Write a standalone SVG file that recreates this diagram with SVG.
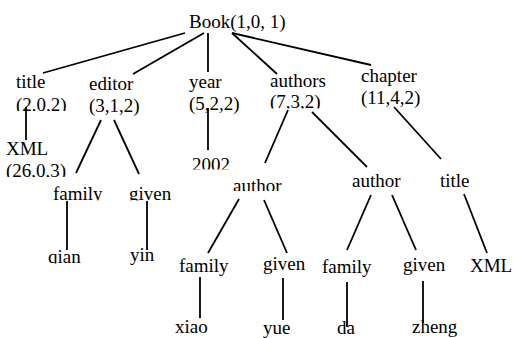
<svg xmlns="http://www.w3.org/2000/svg" width="513" height="338" viewBox="0 0 513 338" font-family="'Liberation Serif', 'DejaVu Serif', serif">
<style>
text{font-family:'Liberation Serif','DejaVu Serif',serif;font-size:19px;fill:#000}
.e{stroke:#000;stroke-width:1.8;fill:none;stroke-linecap:butt}
</style>
<defs>
<clipPath id="c202"><rect x="0" y="90" width="80" height="21"/></clipPath>
<clipPath id="c2603"><rect x="0" y="155" width="80" height="22"/></clipPath>
<clipPath id="c732"><rect x="260" y="90" width="80" height="18.5"/></clipPath>
<clipPath id="c2002"><rect x="180" y="150" width="60" height="19.5"/></clipPath>
<clipPath id="cfg"><rect x="40" y="180" width="150" height="20.5"/></clipPath>
<clipPath id="cqian"><rect x="40" y="245" width="60" height="18.5"/></clipPath>
<clipPath id="cauth"><rect x="225" y="170" width="80" height="21"/></clipPath>
</defs>
<g id="connectors">
<line class="e" x1="185" y1="33" x2="43" y2="73"/>
<line class="e" x1="204" y1="33" x2="133" y2="74"/>
<line class="e" x1="208" y1="33" x2="208" y2="72"/>
<line class="e" x1="232" y1="33" x2="277" y2="74"/>
<line class="e" x1="232" y1="33" x2="371" y2="65"/>
<line class="e" x1="26" y1="107" x2="26" y2="140"/>
<line class="e" x1="101" y1="120" x2="76" y2="173"/>
<line class="e" x1="114" y1="120" x2="139" y2="174"/>
<line class="e" x1="208" y1="108" x2="208" y2="150"/>
<line class="e" x1="288" y1="110" x2="265" y2="163"/>
<line class="e" x1="312" y1="112" x2="367" y2="167"/>
<line class="e" x1="394" y1="107" x2="441" y2="159"/>
<line class="e" x1="67" y1="201" x2="67" y2="250"/>
<line class="e" x1="147" y1="201" x2="147" y2="250"/>
<line class="e" x1="239" y1="199" x2="208" y2="253"/>
<line class="e" x1="264" y1="200" x2="287" y2="253"/>
<line class="e" x1="200" y1="277" x2="200" y2="318"/>
<line class="e" x1="283" y1="278" x2="283" y2="320"/>
<line class="e" x1="371" y1="195" x2="347" y2="250"/>
<line class="e" x1="392" y1="195" x2="416" y2="250"/>
<line class="e" x1="464" y1="194" x2="487" y2="253"/>
<line class="e" x1="347" y1="282" x2="347" y2="327"/>
<line class="e" x1="423" y1="281" x2="423" y2="323"/>
</g>
<g id="book"><text x="189" y="27.5">Book(1,0, 1)</text></g>
<g id="title1"><text x="16" y="88">title</text><text x="16" y="110.5" clip-path="url(#c202)">(2,0,2)</text></g>
<g id="editor"><text x="89" y="90">editor</text><text x="89" y="112">(3,1,2)</text></g>
<g id="year"><text x="189" y="87.5">year</text><text x="189" y="110">(5,2,2)</text></g>
<g id="authors"><text x="270" y="86.5">authors</text><text x="270" y="108" clip-path="url(#c732)">(7,3,2)</text></g>
<g id="chapter"><text x="361" y="81.5">chapter</text><text x="361" y="104">(11,4,2)</text></g>
<g id="xml1"><text x="6" y="155">XML</text><text x="6" y="176.5" clip-path="url(#c2603)">(26,0,3)</text></g>
<g id="y2002"><text x="192" y="171" clip-path="url(#c2002)">2002</text></g>
<g id="family1"><text x="53" y="200" clip-path="url(#cfg)">family</text></g>
<g id="given1"><text x="129" y="200" clip-path="url(#cfg)">given</text></g>
<g id="qian"><text x="48" y="263" clip-path="url(#cqian)">qian</text></g>
<g id="yin"><text x="130" y="261">yin</text></g>
<g id="author1"><text x="233" y="191.5" clip-path="url(#cauth)">author</text></g>
<g id="author2"><text x="352" y="187">author</text></g>
<g id="title2"><text x="440" y="187">title</text></g>
<g id="family2"><text x="179" y="271.5">family</text></g>
<g id="given2"><text x="263" y="270">given</text></g>
<g id="family3"><text x="322" y="272.5">family</text></g>
<g id="given3"><text x="403" y="270.5">given</text></g>
<g id="xml2"><text x="470" y="272">XML</text></g>
<g id="xiao"><text x="175" y="333">xiao</text></g>
<g id="yue"><text x="263" y="333.5">yue</text></g>
<g id="da"><text x="337" y="334">da</text></g>
<g id="zheng"><text x="412" y="333">zheng</text></g>
</svg>
